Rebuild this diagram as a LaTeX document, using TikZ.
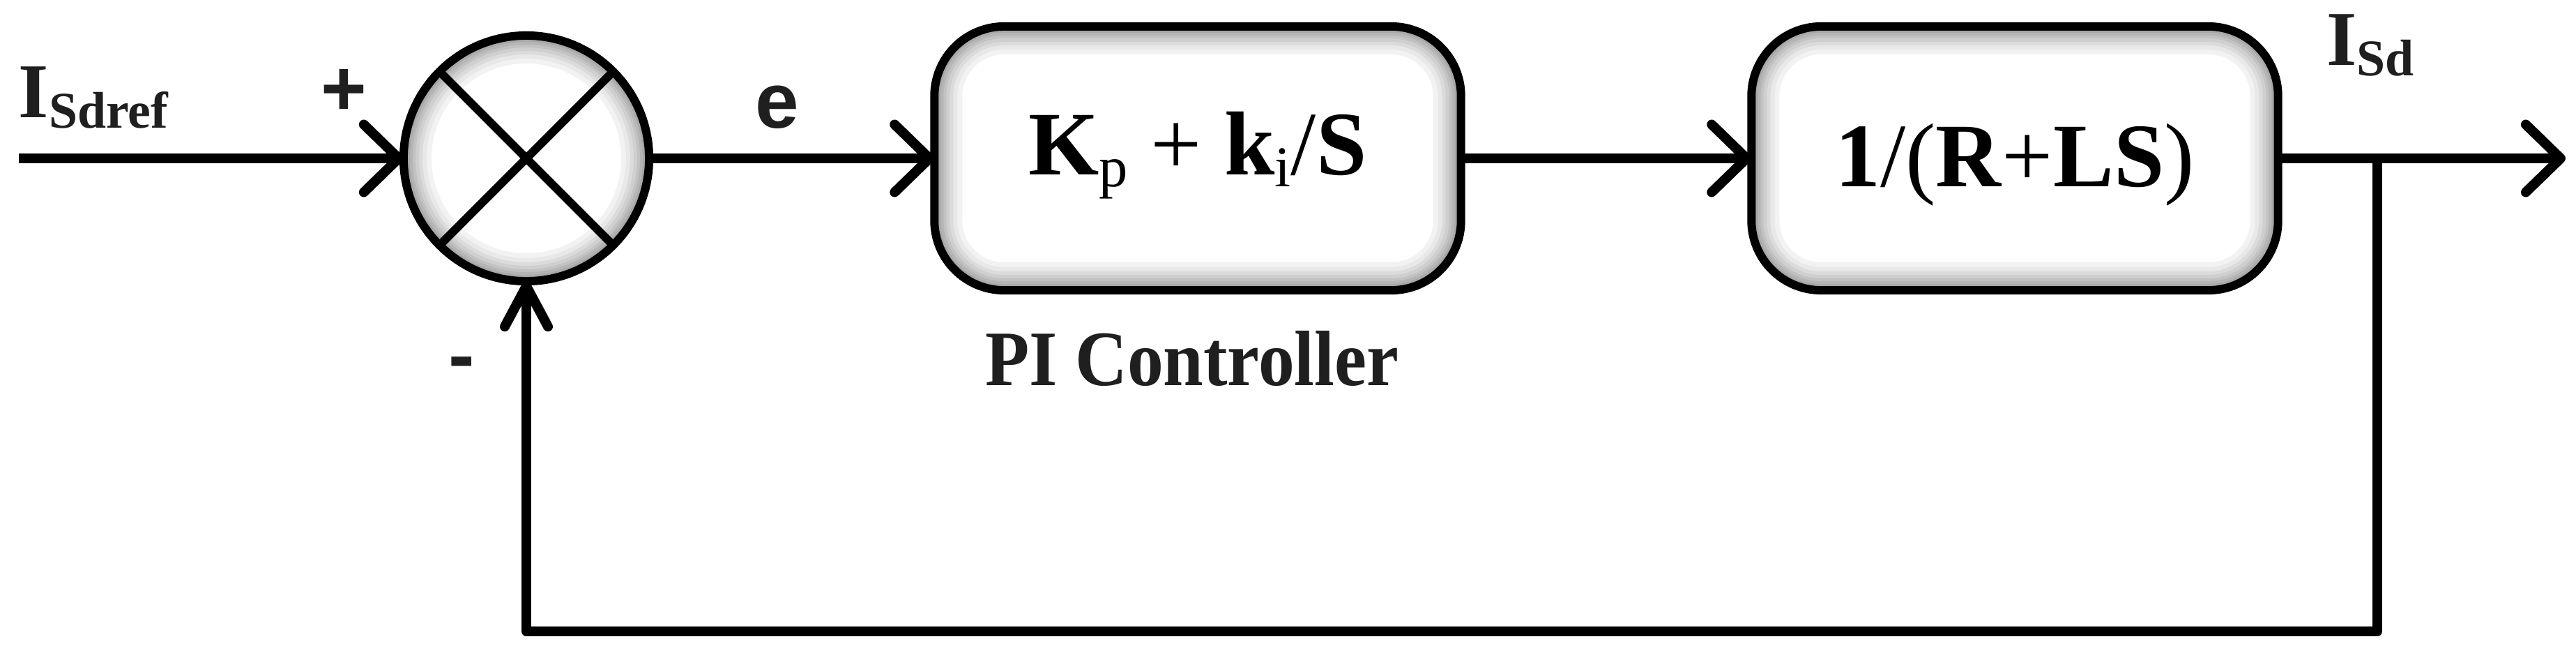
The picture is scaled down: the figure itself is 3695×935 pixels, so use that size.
\documentclass[tikz,border=0pt]{standalone}
\usepackage{fontspec}
\setmainfont{Liberation Serif}
\newfontfamily\sansfam{Liberation Sans}
\usetikzlibrary{arrows.meta,backgrounds}
\newcommand{\bigf}{\fontsize{37}{40}\selectfont}
\newcommand{\subf}{\fontsize{23.5}{25}\selectfont}
\newcommand{\lblf}{\fontsize{31.6}{34}\selectfont}
\newcommand{\lblsub}{\fontsize{21}{22}\selectfont}
\newcommand{\signf}{\sansfam\bfseries\fontsize{32}{34}\selectfont}
\begin{document}
\begin{tikzpicture}[x=0.01cm, y=-0.01cm,
  conn/.style={line width=0.14cm, line join=round, draw=black},
  barb/.style={-{Straight Barb[length=0.5cm,width=0.97cm,round]}},
  barbup/.style={-{Straight Barb[length=0.58cm,width=0.62cm,round]}},
  blockbox/.style={draw, line width=0.12cm, rounded corners=1cm, minimum width=7.55cm,
    minimum height=3.78cm, inner sep=0pt, outer sep=0pt, font=\bigf},
  sumnode/.style={draw, circle, line width=0.12cm, minimum size=3.52cm, inner sep=0pt, outer sep=0pt},
  xline/.style={line width=0.12cm},
  lbl/.style={inner sep=0pt, outer sep=0pt, text=black!88}
]
\useasboundingbox (0,0) rectangle (3695,935);

% blocks
\node[sumnode] (sum) at (755,227) {};
\draw[xline] (sum.45) -- (sum.225);
\draw[xline] (sum.135) -- (sum.315);

\node[blockbox, text height=0.46cm, text depth=0cm] (pi) at (1718,227)
  {\textbf{K}\raisebox{-0.17cm}{\subf p} + \textbf{k}\raisebox{-0.17cm}{\subf i}/\textbf{S}};
\node[blockbox, text height=0.80cm, text depth=0cm] (plant) at (2890,227)
  {\textbf{1}/(\textbf{R}+\textbf{LS})};

% connector points
\coordinate (in) at (27,227);
\coordinate (out) at (3680,227);
\coordinate (tap) at (3410,227);
\coordinate (fb) at (3410,905);

% connectors
\draw[conn, barb] (in) -- (sum.west);
\draw[conn, barb] (sum.east) -- (pi.west);
\draw[conn, barb] (pi.east) -- (plant.west);
\draw[conn, barb] (plant.east) -- (out);
\draw[conn, barbup] (tap) -- (fb) -| (sum.south);

% labels
\node[lbl, anchor=base west] (isdref) at (27,168)
  {\lblf\textbf{I}\raisebox{-0.15cm}{\lblsub\textbf{Sdref}}};
\node[lbl, anchor=base west] (isd) at (3337,93)
  {\lblf\textbf{I}\raisebox{-0.15cm}{\lblsub\textbf{Sd}}};
\node[lbl, anchor=base] (plus) at (493,165) {\signf +};
\node[lbl, anchor=base] (minus) at (662,547) {\signf -};
\node[lbl, anchor=base] (err) at (1115,183) {\signf e};
\node[lbl, anchor=base west] (picap) at (1413,552)
  {\scalebox{0.92}[1]{\fontsize{32}{34}\selectfont\textbf{PI Controller}}};

% inner glow of the shapes
\begin{scope}[on background layer]
  \fill[white] (0,0) rectangle (3695,935);
  \begin{scope}
    \clip (sum.center) circle[radius=1.76cm];
    \foreach \w/\c in {0.80cm/5, 0.66cm/9, 0.54cm/14, 0.44cm/19, 0.34cm/24, 0.26cm/29, 0.18cm/34}
      \draw[line width=\w, black!\c] (sum.center) circle[radius=1.76cm];
  \end{scope}
  \begin{scope}
    \clip[rounded corners=1cm] (pi.south west) rectangle (pi.north east);
    \foreach \w/\c in {0.80cm/5, 0.66cm/9, 0.54cm/14, 0.44cm/19, 0.34cm/24, 0.26cm/29, 0.18cm/34}
      \draw[line width=\w, black!\c, rounded corners=1cm] (pi.south west) rectangle (pi.north east);
  \end{scope}
  \begin{scope}
    \clip[rounded corners=1cm] (plant.south west) rectangle (plant.north east);
    \foreach \w/\c in {0.80cm/5, 0.66cm/9, 0.54cm/14, 0.44cm/19, 0.34cm/24, 0.26cm/29, 0.18cm/34}
      \draw[line width=\w, black!\c, rounded corners=1cm] (plant.south west) rectangle (plant.north east);
  \end{scope}
\end{scope}
\end{tikzpicture}
\end{document}
